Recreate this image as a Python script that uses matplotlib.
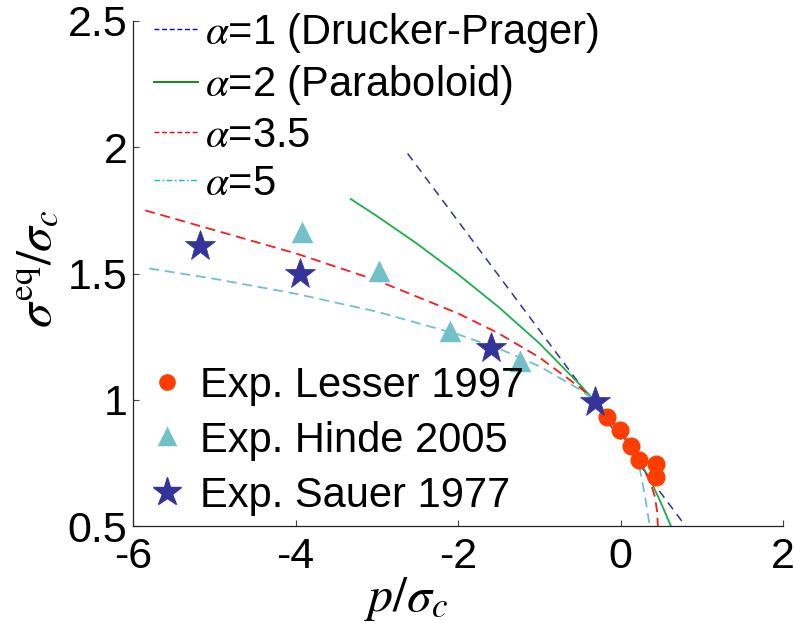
import matplotlib
matplotlib.use("Agg")
import matplotlib.pyplot as plt
from matplotlib.lines import Line2D

plt.rcParams['font.family'] = ['Liberation Sans', 'DejaVu Sans']
plt.rcParams['mathtext.fontset'] = 'stix'

# Yield-surface curves (p/sigma_c, sigma_eq/sigma_c)
p_dp = [-2.62, 0.80]
s_dp = [1.975, 0.50]

p_a2 = [-3.32, -3.0, -2.5, -2.0, -1.5, -1.0, -0.5, -0.33, 0.0, 0.2, 0.3, 0.4, 0.5, 0.62]
s_a2 = [1.795, 1.728, 1.617, 1.497, 1.367, 1.224, 1.060, 0.999, 0.867, 0.777, 0.72, 0.66, 0.59, 0.50]

p_a35 = [-5.85, -5.0, -4.0, -3.0, -2.0, -1.5, -1.0, -0.5, -0.33, 0.0, 0.2, 0.3, 0.38, 0.42, 0.45, 0.46]
s_a35 = [1.75, 1.672, 1.58, 1.473, 1.342, 1.263, 1.168, 1.049, 1.0, 0.88, 0.782, 0.719, 0.66, 0.62, 0.56, 0.50]

p_a5 = [-5.8, -5.0, -4.0, -3.0, -2.0, -1.5, -1.0, -0.5, -0.33, 0.0, 0.15, 0.24, 0.30, 0.34, 0.36]
s_a5 = [1.52, 1.479, 1.42, 1.349, 1.259, 1.203, 1.133, 1.04, 1.0, 0.893, 0.81, 0.722, 0.62, 0.54, 0.50]

# Experimental data
p_lesser = [-0.17, -0.01, 0.125, 0.224, 0.437, 0.433]
s_lesser = [0.930, 0.880, 0.817, 0.761, 0.744, 0.693]

p_hinde = [-3.92, -2.97, -2.10, -1.24]
s_hinde = [1.662, 1.505, 1.270, 1.151]

p_sauer = [-5.18, -3.94, -1.60, -0.31]
s_sauer = [1.610, 1.500, 1.204, 0.992]

curve_labels = [r'$\alpha$=1 (Drucker-Prager)', r'$\alpha$=2 (Paraboloid)',
                r'$\alpha$=3.5', r'$\alpha$=5']
exp_labels = ['Exp. Lesser 1997', 'Exp. Hinde 2005', 'Exp. Sauer 1977']
xticks = [-6, -4, -2, 0, 2]
yticks = [0.5, 1, 1.5, 2, 2.5]

fig = plt.figure(figsize=(7.94, 6.23), dpi=100)
ax = fig.add_axes([133 / 794, 1 - 526 / 623, 650 / 794, 505 / 623])

ax.plot(p_dp, s_dp, color='#333399', lw=1.1, linestyle=(0, (5.5, 4.0)))
ax.plot(p_a2, s_a2, color='#19B04B', lw=1.3, linestyle='-')
ax.plot(p_a35, s_a35, color='#FF1A1A', lw=1.3, linestyle=(0, (5.5, 3.2)))
ax.plot(p_a5, s_a5, color='#70C2CA', lw=1.3, linestyle=(0, (5.5, 3.2)))

ax.plot(p_lesser, s_lesser, 'o', color='#FF3D00', ms=12, mec='#FF3D00', zorder=5)
ax.plot(p_hinde, s_hinde, '^', color='#72C1C8', ms=11, mec='#72C1C8', mew=2.5,
        zorder=5, solid_joinstyle='round')
ax.plot(p_sauer, s_sauer, '*', color='#333399', ms=23, mec='#333399', mew=0.5, zorder=6)

ax.set_xlim(-6, 2)
ax.set_ylim(0.5, 2.5)
ax.set_xticks(xticks)
ax.set_xticklabels([str(v) for v in xticks])
ax.set_yticks(yticks)
ax.set_yticklabels(['0.5', '1', '1.5', '2', '2.5'])
for s in ['top', 'right']:
    ax.spines[s].set_visible(False)
for s in ['left', 'bottom']:
    ax.spines[s].set_linewidth(0.9)
    ax.spines[s].set_color('#222222')
ax.tick_params(direction='in', length=4, width=0.8, labelsize=31, color='#444444')
ax.tick_params(axis='x', pad=8)
ax.tick_params(axis='y', pad=4)

ax.set_xlabel(r'$p/\sigma_c$', fontsize=36)
ax.set_ylabel(r'$\sigma^{\mathrm{eq}}/\sigma_c$', fontsize=36)
ax.xaxis.set_label_coords(0.42, -0.098)
ax.yaxis.set_label_coords(-0.11, 0.51)

curve_handles = [
    Line2D([], [], color='#0000FF', lw=1.0, linestyle=(0, (3.5, 2.0))),
    Line2D([], [], color='#008000', lw=1.3, linestyle='-'),
    Line2D([], [], color='#FF0000', lw=1.0, linestyle=(0, (3.5, 2.0))),
    Line2D([], [], color='#00BFBF', lw=1.0, linestyle=(0, (4.0, 1.8, 1.2, 1.8))),
]
leg1 = ax.legend(curve_handles, curve_labels, loc='upper left',
                 bbox_to_anchor=(154 / 794, 1 - 11 / 623), bbox_transform=fig.transFigure,
                 frameon=False, fontsize=30, handlelength=1.05, handletextpad=0.17,
                 labelspacing=0.2, borderpad=0, borderaxespad=0)
ax.add_artist(leg1)

exp_handles = [
    Line2D([], [], marker='o', color='#FF3D00', ms=11, linestyle='none'),
    Line2D([], [], marker='^', color='#72C1C8', ms=10, mew=2.5, linestyle='none',
           solid_joinstyle='round'),
    Line2D([], [], marker='*', color='#333399', ms=21, linestyle='none'),
]
ax.legend(exp_handles, exp_labels, loc='upper left',
          bbox_to_anchor=(150 / 794, 1 - 366 / 623), bbox_transform=fig.transFigure,
          frameon=False, fontsize=30, handlelength=0.8, handletextpad=0.4,
          labelspacing=0.36, borderpad=0, borderaxespad=0)

fig.savefig('out.png', dpi=100)
